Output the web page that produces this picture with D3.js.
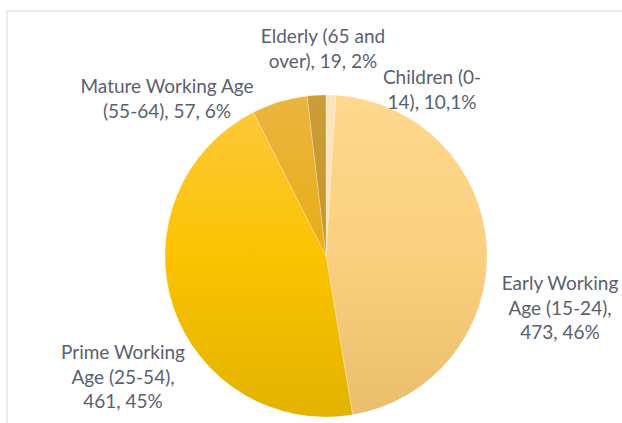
<!DOCTYPE html>
<html>
<head>
<meta charset="utf-8">
<script src="https://cdn.jsdelivr.net/npm/d3@7/dist/d3.min.js"></script>
<style>
  html, body { margin: 0; padding: 0; background: #fff; }
  svg { display: block; }
</style>
</head>
<body>
<svg id="chart" width="622" height="423"></svg>
<script>
// ---- data ----
const categories = ["Children (0-14)", "Early Working Age (15-24)", "Prime Working Age (25-54)", "Mature Working Age (55-64)", "Elderly (65 and over)"];
const values = [10, 473, 461, 57, 19];
const percents = ["1%", "46%", "45%", "6%", "2%"];
const labelLines = [
  ["Children (0-", "14), 10,1%"],
  ["Early Working", "Age (15-24),", "473, 46%"],
  ["Prime Working", "Age (25-54),", "461, 45%"],
  ["Mature Working Age", "(55-64), 57, 6%"],
  ["Elderly (65 and", "over), 19, 2%"]
];

// ---- styles / layout ----
const colorsTop = ["#fee4bd", "#fed88e", "#fdc840", "#ebb540", "#cb9d38"];
const colorsMid = ["#fde0b4", "#fbcf7e", "#fbc300", "#e7ad14", "#c6962a"];
const colorsBottom = ["#f8d7a8", "#e8be6c", "#e3b300", "#e0a500", "#bf8f22"];
const labelPos = [ // label centre x, first baseline y
  [432, 84], [560, 290], [123, 359], [167, 93], [323, 43]
];
const lineH = 24.5;
const W = 622, H = 423;
const cx = 326, cy = 256, R = 161;

const svg = d3.select("#chart");
svg.append("rect").attr("width", W).attr("height", H).attr("fill", "#fff");
svg.append("rect")
  .attr("x", 7).attr("y", 11).attr("width", W + 20).attr("height", H + 20)
  .attr("fill", "none").attr("stroke", "#ececec").attr("stroke-width", 2);

const defs = svg.append("defs");
categories.forEach((c, i) => {
  const g = defs.append("linearGradient")
    .attr("id", "grad" + i)
    .attr("gradientUnits", "userSpaceOnUse")
    .attr("x1", 0).attr("x2", 0)
    .attr("y1", -R).attr("y2", R);
  g.append("stop").attr("offset", "0%").attr("stop-color", colorsTop[i]);
  g.append("stop").attr("offset", "50%").attr("stop-color", colorsMid[i]);
  g.append("stop").attr("offset", "100%").attr("stop-color", colorsBottom[i]);
});

const data = categories.map((c, i) => ({ cat: c, value: values[i], pct: percents[i], lines: labelLines[i], i }));

const pie = d3.pie().value(d => d.value).sort(null);
const arc = d3.arc().innerRadius(0).outerRadius(R);

const g = svg.append("g").attr("transform", `translate(${cx},${cy})`);
g.selectAll("path.slice")
  .data(pie(data))
  .join("path")
  .attr("class", "slice")
  .attr("d", arc)
  .attr("fill", d => `url(#grad${d.data.i})`)
  .attr("stroke", "rgba(255,255,255,0.35)")
  .attr("stroke-width", 0.7);

const labels = svg.append("g")
  .attr("font-family", "Lato, 'Open Sans', sans-serif")
  .attr("font-size", 19)
  .attr("fill", "#5a6070")
  .attr("text-anchor", "middle");

data.forEach((d, i) => {
  const t = labels.append("text")
    .attr("x", labelPos[i][0]).attr("y", labelPos[i][1]);
  d.lines.forEach((ln, k) => {
    t.append("tspan").attr("x", labelPos[i][0]).attr("y", labelPos[i][1] + k * lineH).text(ln);
  });
});
</script>
</body>
</html>
